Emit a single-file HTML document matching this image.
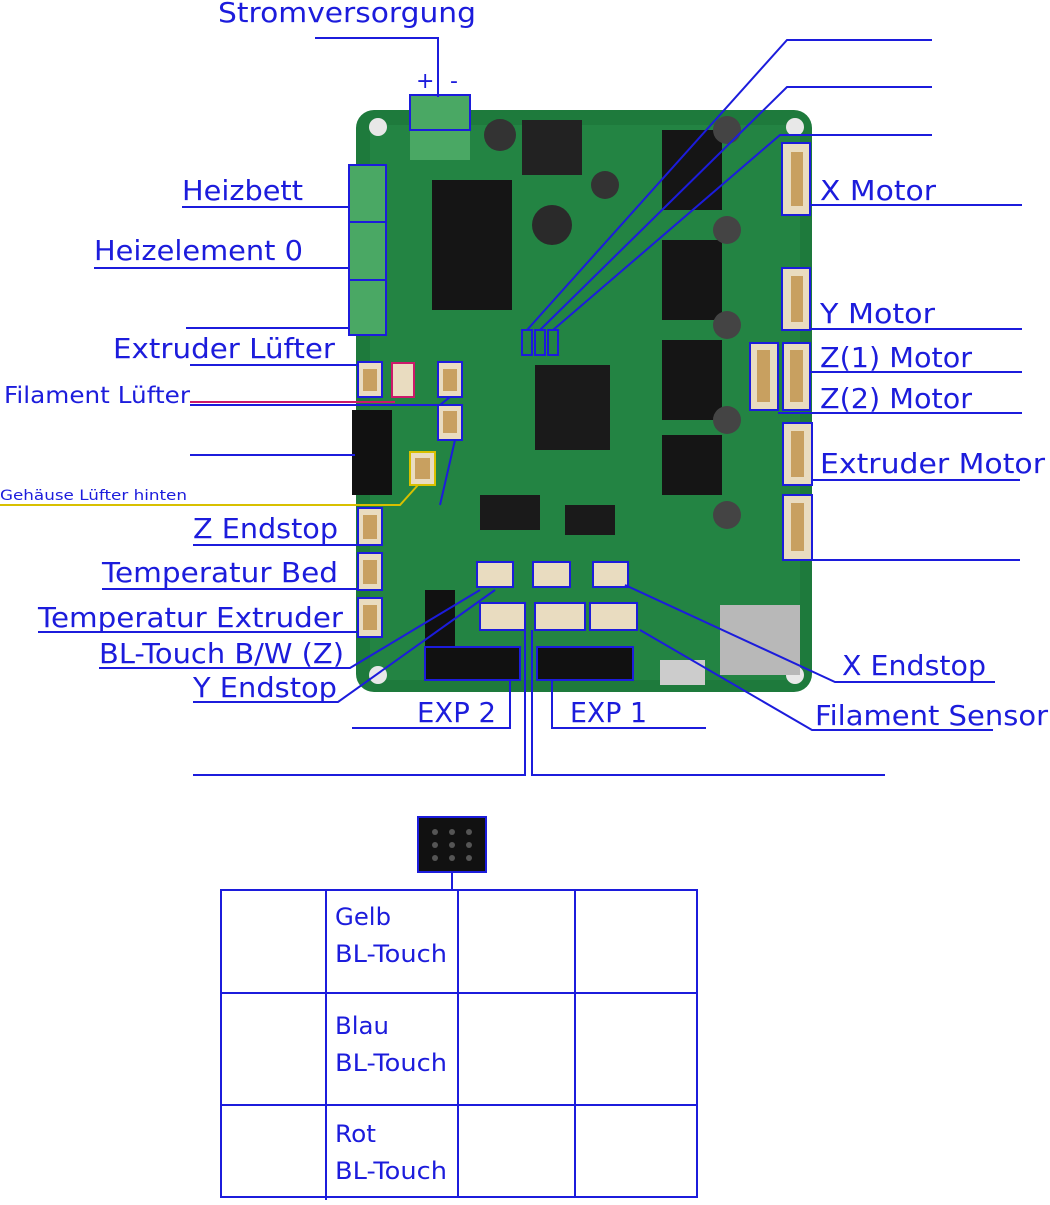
<!DOCTYPE html>
<html><head><meta charset="utf-8"><style>
body{margin:0;background:#fff;}
svg text{font-family:"DejaVu Sans","Liberation Sans",sans-serif;fill:#1c1cdc;}
</style></head><body>
<svg width="1050" height="1200" viewBox="0 0 1050 1200" xmlns="http://www.w3.org/2000/svg">
<rect x="356" y="110" width="456" height="582" rx="18" fill="#1e7a3c"/>
<rect x="370" y="125" width="430" height="555" rx="10" fill="#238443"/>
<circle cx="378" cy="127" r="9" fill="#e8e8e8"/><circle cx="795" cy="127" r="9" fill="#e8e8e8"/>
<circle cx="378" cy="675" r="9" fill="#e8e8e8"/><circle cx="795" cy="675" r="9" fill="#e8e8e8"/>
<rect x="432" y="180" width="80" height="130" fill="#151515"/>
<rect x="662" y="130" width="60" height="80" fill="#151515"/>
<rect x="662" y="240" width="60" height="80" fill="#151515"/>
<rect x="662" y="340" width="60" height="80" fill="#151515"/>
<rect x="662" y="435" width="60" height="60" fill="#151515"/>
<rect x="522" y="120" width="60" height="55" fill="#222"/>
<circle cx="552" cy="225" r="20" fill="#2a2a2a"/>
<circle cx="500" cy="135" r="16" fill="#333"/><circle cx="605" cy="185" r="14" fill="#333"/>
<circle cx="727" cy="130" r="14" fill="#444"/><circle cx="727" cy="230" r="14" fill="#444"/><circle cx="727" cy="325" r="14" fill="#444"/><circle cx="727" cy="420" r="14" fill="#444"/><circle cx="727" cy="515" r="14" fill="#444"/>
<rect x="535" y="365" width="75" height="85" fill="#1a1a1a"/>
<rect x="480" y="495" width="60" height="35" fill="#1a1a1a"/><rect x="565" y="505" width="50" height="30" fill="#1a1a1a"/>
<rect x="720" y="605" width="80" height="70" fill="#b8b8b8"/>
<rect x="660" y="660" width="45" height="25" fill="#ccc"/>
<rect x="352" y="410" width="40" height="85" fill="#111"/>
<rect x="425" y="590" width="30" height="60" fill="#111"/>
<rect x="410" y="95" width="60" height="65" fill="#4aa864"/>
<rect x="349" y="165" width="37" height="170" fill="#4aa864"/>
<rect x="425" y="647" width="95" height="33" fill="#111"/><rect x="537" y="647" width="96" height="33" fill="#111"/>
<g fill="#e9dcc0">
<rect x="782" y="143" width="28" height="72"/><rect x="782" y="268" width="28" height="62"/>
<rect x="783" y="343" width="27" height="67"/><rect x="750" y="343" width="28" height="67"/>
<rect x="783" y="423" width="29" height="62"/><rect x="783" y="495" width="29" height="65"/>
<rect x="358" y="362" width="24" height="35"/><rect x="392" y="362" width="22" height="35"/><rect x="438" y="362" width="24" height="35"/>
<rect x="438" y="405" width="24" height="35"/><rect x="410" y="452" width="25" height="33"/>
<rect x="358" y="508" width="24" height="37"/><rect x="358" y="553" width="24" height="37"/><rect x="358" y="598" width="24" height="39"/>
<rect x="477" y="562" width="36" height="25"/><rect x="533" y="562" width="37" height="25"/><rect x="593" y="562" width="35" height="25"/>
<rect x="480" y="603" width="45" height="27"/><rect x="535" y="603" width="50" height="27"/><rect x="590" y="603" width="47" height="27"/>
</g>
<g fill="#c8a060">
<rect x="791" y="152" width="12" height="54"/><rect x="791" y="276" width="12" height="46"/><rect x="790" y="350" width="13" height="52"/><rect x="757" y="350" width="13" height="52"/><rect x="791" y="431" width="13" height="46"/><rect x="791" y="503" width="13" height="48"/>
<rect x="363" y="369" width="14" height="22"/><rect x="443" y="369" width="14" height="22"/><rect x="443" y="411" width="14" height="22"/><rect x="415" y="458" width="15" height="21"/>
<rect x="363" y="515" width="14" height="24"/><rect x="363" y="560" width="14" height="24"/><rect x="363" y="605" width="14" height="25"/>
</g>
<g fill="none" stroke="#1c1cdc" stroke-width="2">
<rect x="410" y="95" width="60" height="35"/>
<rect x="349" y="165" width="37" height="170"/><line x1="349" y1="222" x2="386" y2="222"/><line x1="349" y1="280" x2="386" y2="280"/>
<rect x="782" y="143" width="28" height="72"/><rect x="782" y="268" width="28" height="62"/>
<rect x="783" y="343" width="27" height="67"/><rect x="750" y="343" width="28" height="67"/>
<rect x="783" y="423" width="29" height="62"/><rect x="783" y="495" width="29" height="65"/>
<rect x="358" y="362" width="24" height="35"/><rect x="438" y="362" width="24" height="35"/>
<rect x="438" y="405" width="24" height="35"/>
<rect x="358" y="508" width="24" height="37"/><rect x="358" y="553" width="24" height="37"/><rect x="358" y="598" width="24" height="39"/>
<rect x="477" y="562" width="36" height="25"/><rect x="533" y="562" width="37" height="25"/><rect x="593" y="562" width="35" height="25"/>
<rect x="480" y="603" width="45" height="27"/><rect x="535" y="603" width="50" height="27"/><rect x="590" y="603" width="47" height="27"/>
<rect x="425" y="647" width="95" height="33"/><rect x="537" y="647" width="96" height="33"/>
<rect x="522" y="330" width="10" height="25"/><rect x="535" y="330" width="10" height="25"/><rect x="548" y="330" width="10" height="25"/>
<polyline points="315,38 438,38 438,97"/>
<polyline points="932,40 787,40 527,330"/>
<polyline points="932,87 787,87 540,330"/>
<polyline points="932,135 780,135 553,330"/>
<line x1="810" y1="205" x2="1022" y2="205"/><line x1="810" y1="329" x2="1022" y2="329"/>
<line x1="810" y1="372" x2="1022" y2="372"/><line x1="778" y1="413" x2="1022" y2="413"/>
<line x1="812" y1="480" x2="1020" y2="480"/><line x1="812" y1="560" x2="1020" y2="560"/>
<line x1="182" y1="207" x2="350" y2="207"/><line x1="94" y1="268" x2="350" y2="268"/><line x1="186" y1="328" x2="350" y2="328"/>
<line x1="190" y1="365" x2="358" y2="365"/>
<polyline points="190,405 440,405 450,397"/>
<line x1="190" y1="455" x2="355" y2="455"/>
<line x1="193" y1="545" x2="358" y2="545"/><line x1="102" y1="589" x2="358" y2="589"/>
<line x1="38" y1="632" x2="358" y2="632"/>
<polyline points="99,668 350,668 480,590"/>
<polyline points="193,702 338,702 495,590"/>
<polyline points="352,728 510,728 510,680"/>
<polyline points="706,728 552,728 552,680"/>
<polyline points="193,775 525,775 525,630"/>
<polyline points="885,775 532,775 532,630"/>
<polyline points="995,682 835,682 625,585"/>
<polyline points="993,730 812,730 640,630"/>
<line x1="440" y1="505" x2="455" y2="440"/>
</g>
<line x1="190" y1="402" x2="395" y2="402" stroke="#cc1a6a" stroke-width="2"/>
<rect x="392" y="363" width="22" height="34" fill="none" stroke="#cc1a6a" stroke-width="2"/>
<polyline points="0,505 400,505 418,485" fill="none" stroke="#d8c000" stroke-width="2"/>
<rect x="410" y="452" width="25" height="33" fill="none" stroke="#d8c000" stroke-width="2"/>
<g font-size="28" lengthAdjust="spacingAndGlyphs">
<text x="218" y="22" textLength="258" lengthAdjust="spacingAndGlyphs">Stromversorgung</text>
<text x="820" y="200" textLength="116" lengthAdjust="spacingAndGlyphs">X Motor</text>
<text x="820" y="323" textLength="115" lengthAdjust="spacingAndGlyphs">Y Motor</text>
<text x="820" y="367" textLength="152" lengthAdjust="spacingAndGlyphs">Z(1) Motor</text>
<text x="820" y="408" textLength="152" lengthAdjust="spacingAndGlyphs">Z(2) Motor</text>
<text x="820" y="473" textLength="225" lengthAdjust="spacingAndGlyphs">Extruder Motor</text>
<text x="182" y="200" textLength="121" lengthAdjust="spacingAndGlyphs">Heizbett</text>
<text x="94" y="260" textLength="209" lengthAdjust="spacingAndGlyphs">Heizelement 0</text>
<text x="113" y="358" textLength="222" lengthAdjust="spacingAndGlyphs">Extruder Lüfter</text>
<text x="193" y="538" textLength="145" lengthAdjust="spacingAndGlyphs">Z Endstop</text>
<text x="102" y="582" textLength="236" lengthAdjust="spacingAndGlyphs">Temperatur Bed</text>
<text x="38" y="627" textLength="305" lengthAdjust="spacingAndGlyphs">Temperatur Extruder</text>
<text x="99" y="663" textLength="245" lengthAdjust="spacingAndGlyphs">BL-Touch B/W (Z)</text>
<text x="193" y="697" textLength="144" lengthAdjust="spacingAndGlyphs">Y Endstop</text>
<text x="417" y="722" textLength="79" lengthAdjust="spacingAndGlyphs">EXP 2</text>
<text x="570" y="722" textLength="77" lengthAdjust="spacingAndGlyphs">EXP 1</text>
<text x="842" y="675" textLength="144" lengthAdjust="spacingAndGlyphs">X Endstop</text>
<text x="815" y="725" textLength="233" lengthAdjust="spacingAndGlyphs">Filament Sensor</text>
</g>
<text x="416" y="88" font-size="22">+</text><text x="450" y="88" font-size="22">-</text>
<text x="4" y="403" font-size="23" textLength="186" lengthAdjust="spacingAndGlyphs">Filament Lüfter</text>
<text x="0" y="500" font-size="14" textLength="187" lengthAdjust="spacingAndGlyphs">Gehäuse Lüfter hinten</text>
<rect x="418" y="817" width="68" height="55" fill="#111" stroke="#1c1cdc" stroke-width="2"/>
<g fill="#555"><circle cx="435" cy="832" r="3"/><circle cx="452" cy="832" r="3"/><circle cx="469" cy="832" r="3"/><circle cx="435" cy="845" r="3"/><circle cx="452" cy="845" r="3"/><circle cx="469" cy="845" r="3"/><circle cx="435" cy="858" r="3"/><circle cx="452" cy="858" r="3"/><circle cx="469" cy="858" r="3"/></g>
<line x1="452" y1="872" x2="452" y2="890" stroke="#1c1cdc" stroke-width="2"/>
<g stroke="#1c1cdc" stroke-width="2" fill="none">
<rect x="221" y="890" width="476" height="307"/>
<line x1="326" y1="890" x2="326" y2="1200"/><line x1="458" y1="890" x2="458" y2="1197"/><line x1="575" y1="890" x2="575" y2="1197"/>
<line x1="221" y1="993" x2="697" y2="993"/><line x1="221" y1="1105" x2="697" y2="1105"/>
</g>
<g font-size="24">
<text x="335" y="925" textLength="56" lengthAdjust="spacingAndGlyphs">Gelb</text><text x="335" y="962" textLength="112" lengthAdjust="spacingAndGlyphs">BL-Touch</text>
<text x="335" y="1034" textLength="54" lengthAdjust="spacingAndGlyphs">Blau</text><text x="335" y="1071" textLength="112" lengthAdjust="spacingAndGlyphs">BL-Touch</text>
<text x="335" y="1142" textLength="41" lengthAdjust="spacingAndGlyphs">Rot</text><text x="335" y="1179" textLength="112" lengthAdjust="spacingAndGlyphs">BL-Touch</text>
</g>
</svg>
</body></html>
